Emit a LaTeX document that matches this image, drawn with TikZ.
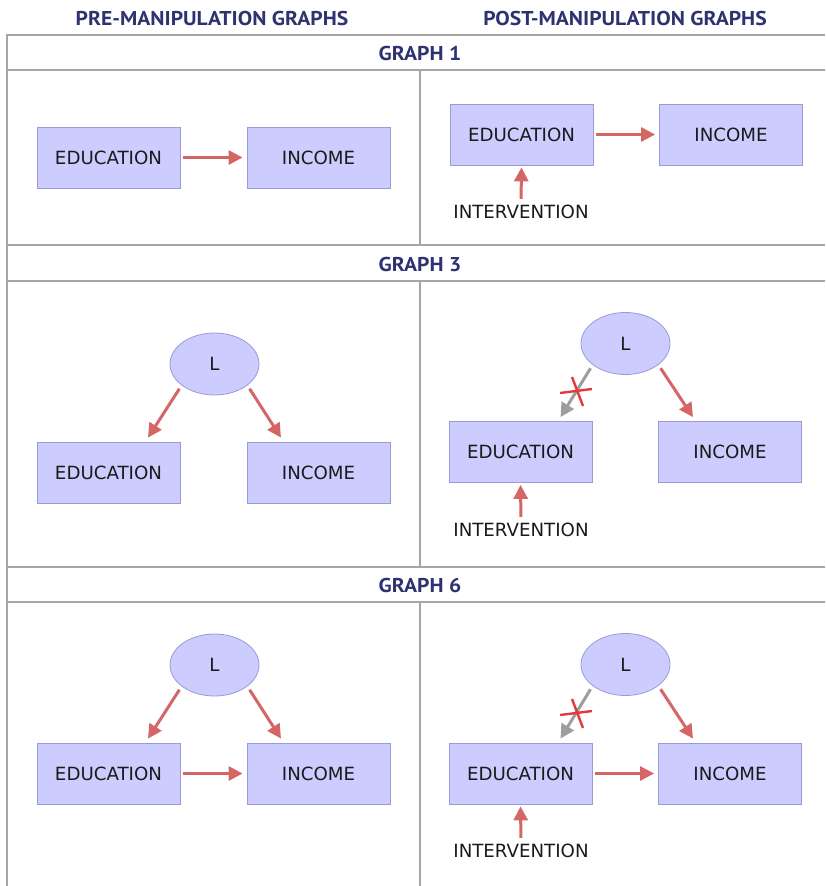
\documentclass[tikz,border=0pt]{standalone}
\usepackage{fontspec}
\setmainfont{DejaVu Sans}
\newfontfamily\headfont[FakeStretch=1.08]{PT Sans}
\usetikzlibrary{arrows.meta,shapes.geometric,calc}
\definecolor{boxfill}{HTML}{CCCCFF}
\definecolor{boxline}{HTML}{9A9AD6}
\definecolor{arrred}{HTML}{D46666}
\definecolor{arrgray}{HTML}{9E9E9E}
\definecolor{xred}{HTML}{E23A3A}
\definecolor{tabline}{HTML}{A6A6A6}
\definecolor{navy}{HTML}{2E3270}
\definecolor{txt}{HTML}{1A1A1A}
\tikzset{
  varbox/.style={draw=boxline, fill=boxfill, line width=0.8pt, minimum width=143pt, minimum height=61pt, inner sep=0pt, text=txt, font=\fontsize{18.2}{18}\selectfont},
  latent/.style={ellipse, draw=boxline, fill=boxfill, line width=0.8pt, minimum width=89pt, minimum height=62pt, inner sep=0pt, text=txt, font=\fontsize{18.2}{18}\selectfont},
  intlabel/.style={inner sep=0pt, text=txt, font=\fontsize{18.2}{18}\selectfont},
  causal/.style={draw=arrred, line width=3pt, -{Triangle[length=14pt,width=14pt]}},
  cut/.style={draw=arrgray, line width=3pt, -{Triangle[length=14pt,width=14pt]}},
  xmark/.style={draw=xred, line width=2.4pt},
  tabrule/.style={draw=tabline, line width=1.6pt},
  colhead/.style={inner sep=0pt, text=navy, font=\headfont\bfseries\fontsize{20}{20}\selectfont},
}
\begin{document}
\begin{tikzpicture}[x=1pt,y=-1pt]
\useasboundingbox (0,0) rectangle (825,886);
% table
\draw[tabrule] (7,886) -- (7,35) -- (825,35);
\draw[tabrule] (7,70) -- (825,70);
\draw[tabrule] (7,245) -- (825,245);
\draw[tabrule] (7,281) -- (825,281);
\draw[tabrule] (7,567) -- (825,567);
\draw[tabrule] (7,602) -- (825,602);
\draw[tabrule] (420,70) -- (420,245);
\draw[tabrule] (420,281) -- (420,567);
\draw[tabrule] (420,602) -- (420,886);
% headers
\node[colhead] (hpre) at (212,18) {PRE-MANIPULATION GRAPHS};
\node[colhead] (hpost) at (625,18) {POST-MANIPULATION GRAPHS};
\node[colhead] (g1) at (420,53) {GRAPH 1};
\node[colhead] (g3) at (420,264) {GRAPH 3};
\node[colhead] (g6) at (420,585) {GRAPH 6};

% ---------- Graph 1 pre
\node[varbox] (e1a) at (108.5,157.5) {EDUCATION};
\node[varbox] (i1a) at (318.5,157.5) {INCOME};
\draw[causal, shorten <=3pt, shorten >=4pt] (e1a.east) -- (i1a.west);
% ---------- Graph 1 post
\node[varbox] (e1b) at (521.5,134.5) {EDUCATION};
\node[varbox] (i1b) at (731,134.5) {INCOME};
\node[intlabel] (v1b) at (521,212) {INTERVENTION};
\draw[causal, shorten <=3pt, shorten >=4pt] (e1b.east) -- (i1b.west);
\draw[causal, shorten <=6pt, shorten >=2pt] (v1b.north) -- (e1b.south);

% ---------- Graph 3 pre
\node[latent] (l3a) at (214.5,364) {L};
\node[varbox] (e3a) at (108.5,472.5) {EDUCATION};
\node[varbox] (i3a) at (318.5,472.5) {INCOME};
\draw[causal, shorten <=4pt] (l3a.213) -- ([xshift=39.5pt,yshift=4pt]e3a.north);
\draw[causal, shorten <=4pt] (l3a.327) -- ([xshift=-37.5pt,yshift=4pt]i3a.north);
% ---------- Graph 3 post
\node[latent] (l3b) at (625.5,343.5) {L};
\node[varbox] (e3b) at (520.5,452) {EDUCATION};
\node[varbox] (i3b) at (730,452) {INCOME};
\node[intlabel] (v3b) at (521,530) {INTERVENTION};
\draw[cut, shorten <=4pt] (l3b.213) -- ([xshift=40pt,yshift=4pt]e3b.north);
\draw[causal, shorten <=4pt] (l3b.327) -- ([xshift=-37pt,yshift=4pt]i3b.north);
\draw[causal, shorten <=6pt, shorten >=2pt] (v3b.north) -- (e3b.south);
\coordinate (x3) at (576,391);
\draw[xmark] (x3) ++(-16,2) -- ++(32,-4);
\draw[xmark] (x3) ++(-4,-14) -- ++(11,29);

% ---------- Graph 6 pre
\node[latent] (l6a) at (214.5,665) {L};
\node[varbox] (e6a) at (108.5,773.5) {EDUCATION};
\node[varbox] (i6a) at (318.5,773.5) {INCOME};
\draw[causal, shorten <=4pt] (l6a.213) -- ([xshift=39.5pt,yshift=4pt]e6a.north);
\draw[causal, shorten <=4pt] (l6a.327) -- ([xshift=-37.5pt,yshift=4pt]i6a.north);
\draw[causal, shorten <=3pt, shorten >=4pt] (e6a.east) -- (i6a.west);
% ---------- Graph 6 post
\node[latent] (l6b) at (625.5,664.5) {L};
\node[varbox] (e6b) at (520.5,773.5) {EDUCATION};
\node[varbox] (i6b) at (730,773.5) {INCOME};
\node[intlabel] (v6b) at (521,851) {INTERVENTION};
\draw[cut, shorten <=4pt] (l6b.213) -- ([xshift=40pt,yshift=4pt]e6b.north);
\draw[causal, shorten <=4pt] (l6b.327) -- ([xshift=-37pt,yshift=4pt]i6b.north);
\draw[causal, shorten <=3pt, shorten >=4pt] (e6b.east) -- (i6b.west);
\draw[causal, shorten <=6pt, shorten >=2pt] (v6b.north) -- (e6b.south);
\coordinate (x6) at (576,713);
\draw[xmark] (x6) ++(-16,2) -- ++(32,-4);
\draw[xmark] (x6) ++(-4,-14) -- ++(11,29);
\end{tikzpicture}
\end{document}
